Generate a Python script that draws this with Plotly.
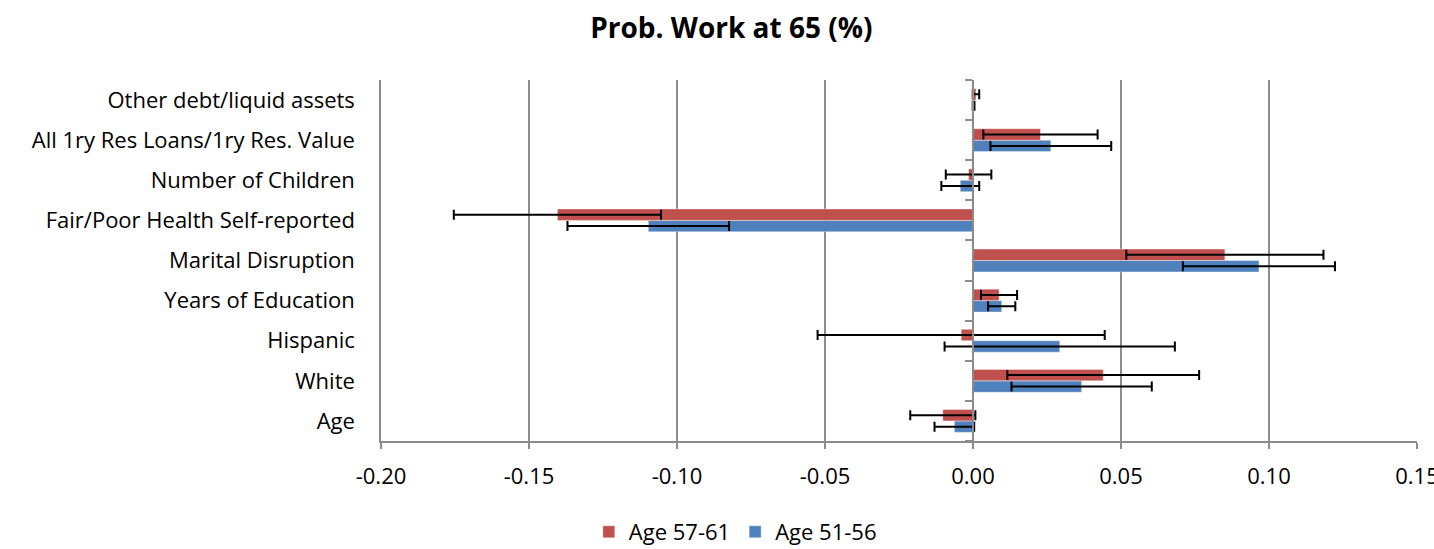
import plotly.graph_objects as go

categories = ["Age", "White", "Hispanic", "Years of Education", "Marital Disruption",
              "Fair/Poor Health Self-reported", "Number of Children",
              "All 1ry Res Loans/1ry Res. Value", "Other debt/liquid assets"]

age_57_61 = [-0.0102, 0.0440, -0.0040, 0.0088, 0.0851, -0.1404, -0.0015, 0.0228, 0.0010]
age_57_61_err = [0.0110, 0.0324, 0.0485, 0.0061, 0.0333, 0.0350, 0.0077, 0.0193, 0.0011]

age_51_56 = [-0.0063, 0.0367, 0.0293, 0.0097, 0.0966, -0.1097, -0.0043, 0.0263, 0.0002]
age_51_56_err = [0.0067, 0.0237, 0.0389, 0.0046, 0.0257, 0.0273, 0.0064, 0.0204, 0.0003]

x_ticks = [-0.20, -0.15, -0.10, -0.05, 0.00, 0.05, 0.10, 0.15]
x_tick_text = ["-0.20", "-0.15", "-0.10", "-0.05", "0.00", "0.05", "0.10", "0.15"]

RED = "#C0504D"
BLUE = "#4F81BD"
FONT = "Open Sans, Carlito, Calibri, sans-serif"
GRID = "#8c8c8c"

fig = go.Figure()
fig.add_trace(go.Bar(
    y=categories, x=age_51_56, orientation="h", name="Age 51-56",
    marker=dict(color=BLUE, line=dict(color="rgba(255,255,255,0.4)", width=1)),
    error_x=dict(type="data", array=age_51_56_err, color="black", thickness=2, width=5),
    legendrank=2,
))
fig.add_trace(go.Bar(
    y=categories, x=age_57_61, orientation="h", name="Age 57-61",
    marker=dict(color=RED, line=dict(color="rgba(255,255,255,0.4)", width=1)),
    error_x=dict(type="data", array=age_57_61_err, color="black", thickness=2, width=5),
    legendrank=1,
))
# invisible trace to carry the vertical axis drawn at x = 0
fig.add_trace(go.Scatter(
    y=categories, x=[0] * len(categories), yaxis="y2", mode="markers",
    marker=dict(opacity=0), showlegend=False, hoverinfo="skip",
))

xmin, xmax = -0.20, 0.15
fig.update_layout(
    width=1434, height=549,
    paper_bgcolor="white", plot_bgcolor="white",
    margin=dict(l=381, r=17, t=80, b=108, autoexpand=False),
    barmode="group", bargap=0.43, bargroupgap=0.0,
    font=dict(family=FONT, size=20, color="black"),
    title=dict(text="<b>Prob. Work at 65 (%)</b>", x=0.51, xref="container", xanchor="center",
               y=0.949, yanchor="middle", font=dict(family=FONT, size=28, color="black")),
    xaxis=dict(range=[xmin, xmax], tickvals=x_ticks, ticktext=x_tick_text,
               showgrid=True, gridcolor=GRID, gridwidth=1.5,
               zeroline=False, showline=True, linecolor=GRID, linewidth=1.5,
               ticks="outside", ticklen=6, tickcolor=GRID, tickwidth=1.5,
               ticklabelstandoff=9, ticklabeloverflow="allow", automargin=False,
               tickfont=dict(size=22)),
    yaxis=dict(categoryorder="array", categoryarray=categories, range=[-0.5, 8.5],
               showgrid=False, zeroline=False, showline=True, linecolor=GRID, linewidth=1.5,
               ticks="", ticklabelstandoff=20, automargin=False, tickfont=dict(size=22)),
    yaxis2=dict(overlaying="y", anchor="free", position=(0 - xmin) / (xmax - xmin), side="left",
                categoryorder="array", categoryarray=categories, range=[-0.5, 8.5],
                showgrid=False, zeroline=False, showline=True, linecolor=GRID, linewidth=1.5,
                ticks="outside", tickson="boundaries", ticklen=7, tickcolor=GRID, tickwidth=1.5,
                showticklabels=False),
    legend=dict(orientation="h", x=0.342, xanchor="center", y=-0.252, yanchor="middle",
                font=dict(size=22), itemwidth=30, bgcolor="rgba(0,0,0,0)"),
)

fig.write_html("out.html", config={"displayModeBar": False},
               post_script="document.body.style.margin='0';")
